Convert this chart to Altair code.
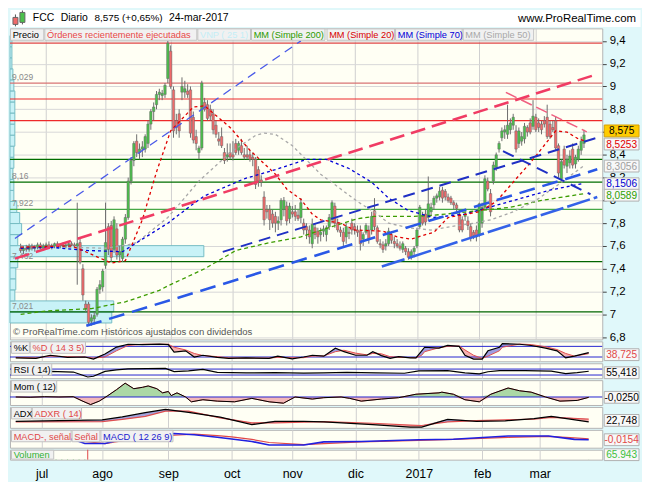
import altair as alt
import pandas as pd

# ---------------------------------------------------------------- data
# FCC daily candles, one per business day (index 0 = 20-jun-2016 ... 199 = 24-mar-2017)
opens = [
    7.58, 7.56, 7.58, 7.57, 7.60, 7.58, 7.59, 7.61, 7.58, 7.60,
    7.61, 7.59, 7.60, 7.62, 7.60, 7.61, 7.60, 7.61, 7.62, 7.61,
    7.60, 7.63, 7.40, 7.09, 7.09, 6.94, 6.96, 7.00, 7.22, 7.24,
    7.43, 7.77, 7.78, 7.57, 7.75, 7.52, 7.49, 7.66, 7.85, 8.17,
    8.35, 8.52, 8.42, 8.45, 8.45, 8.50, 8.67, 8.78, 8.84, 8.93,
    8.92, 8.93, 9.07, 9.31, 8.97, 8.70, 8.76, 8.95, 8.95, 8.96,
    8.97, 8.73, 8.56, 8.42, 8.46, 8.86, 8.84, 8.80, 8.76, 8.66,
    8.54, 8.56, 8.42, 8.38, 8.42, 8.40, 8.50, 8.44, 8.48, 8.40,
    8.40, 8.40, 8.38, 8.36, 8.27, 8.18, 8.03, 7.92, 7.92, 7.88,
    7.86, 7.80, 7.83, 7.92, 7.95, 7.84, 7.90, 7.90, 7.87, 7.85,
    7.80, 7.77, 7.74, 7.62, 7.76, 7.73, 7.70, 7.73, 7.70, 7.77,
    7.83, 7.95, 7.80, 7.74, 7.72, 7.68, 7.72, 7.80, 7.77, 7.74,
    7.73, 7.66, 7.72, 7.74, 7.74, 7.91, 7.76, 7.62, 7.61, 7.60,
    7.62, 7.70, 7.64, 7.62, 7.60, 7.57, 7.58, 7.55, 7.51, 7.55,
    7.60, 7.77, 7.86, 7.88, 7.85, 7.90, 7.96, 8.02, 8.03, 8.09,
    8.08, 8.03, 8.02, 7.98, 7.96, 7.88, 7.83, 7.86, 7.82, 7.77,
    7.72, 7.74, 7.70, 7.80, 7.94, 8.17, 8.06, 8.17, 8.29, 8.45,
    8.55, 8.60, 8.58, 8.62, 8.66, 8.61, 8.50, 8.52, 8.54, 8.64,
    8.68, 8.65, 8.73, 8.68, 8.67, 8.70, 8.73, 8.67, 8.64, 8.70,
    8.48, 8.19, 8.45, 8.30, 8.33, 8.45, 8.32, 8.36, 8.44, 8.50,
]
highs = [
    7.62, 7.60, 7.61, 7.62, 7.62, 7.61, 7.63, 7.63, 7.62, 7.63,
    7.64, 7.62, 7.63, 7.64, 7.62, 7.63, 7.62, 7.63, 7.64, 7.63,
    7.98, 7.66, 7.44, 7.12, 7.11, 7.00, 7.02, 7.24, 7.30, 7.40,
    7.98, 7.80, 7.82, 7.86, 7.80, 7.60, 7.68, 7.88, 8.20, 8.38,
    8.52, 8.58, 8.50, 8.52, 8.58, 8.70, 8.80, 8.86, 8.96, 8.98,
    8.97, 9.03, 9.40, 9.36, 9.00, 8.76, 8.80, 9.08, 9.05, 9.02,
    9.00, 8.78, 8.62, 8.48, 9.05, 8.90, 8.88, 8.84, 8.80, 8.70,
    8.60, 8.64, 8.46, 8.50, 8.50, 8.52, 8.54, 8.52, 8.54, 8.46,
    8.48, 8.44, 8.42, 8.38, 8.30, 8.22, 8.08, 7.96, 7.96, 7.92,
    7.90, 7.86, 8.02, 8.03, 7.99, 7.98, 7.95, 7.96, 7.92, 8.02,
    7.84, 7.80, 7.78, 7.84, 7.80, 7.76, 7.76, 7.78, 7.78, 7.88,
    8.00, 7.98, 7.84, 7.77, 7.76, 7.80, 7.76, 7.84, 7.80, 7.78,
    7.78, 7.72, 7.80, 7.78, 7.90, 8.02, 7.78, 7.66, 7.64, 7.66,
    7.76, 7.73, 7.68, 7.66, 7.64, 7.64, 7.60, 7.58, 7.57, 7.60,
    7.76, 7.96, 7.90, 7.92, 8.21, 7.98, 8.04, 8.06, 8.12, 8.12,
    8.10, 8.06, 8.04, 8.00, 7.98, 7.92, 7.86, 7.90, 7.86, 7.80,
    7.74, 7.78, 7.98, 7.98, 8.22, 8.20, 8.10, 8.34, 8.42, 8.52,
    8.64, 8.66, 8.84, 8.72, 8.76, 8.66, 8.64, 8.60, 8.68, 8.66,
    8.72, 8.88, 8.76, 8.72, 8.70, 8.74, 8.84, 8.70, 8.70, 8.74,
    8.50, 8.36, 8.48, 8.40, 8.44, 8.50, 8.40, 8.48, 8.56, 8.62,
]
lows = [
    7.54, 7.53, 7.55, 7.55, 7.56, 7.55, 7.57, 7.57, 7.56, 7.58,
    7.58, 7.57, 7.58, 7.59, 7.58, 7.59, 7.58, 7.59, 7.60, 7.58,
    7.26, 7.44, 7.12, 7.02, 6.90, 6.90, 6.91, 6.98, 7.18, 7.20,
    7.40, 7.52, 7.46, 7.54, 7.48, 7.46, 7.46, 7.62, 7.83, 8.14,
    8.30, 8.38, 8.36, 8.38, 8.42, 8.46, 8.62, 8.70, 8.80, 8.88,
    8.88, 8.90, 9.03, 8.98, 8.55, 8.58, 8.55, 8.88, 8.90, 8.90,
    8.55, 8.50, 8.44, 8.36, 8.44, 8.78, 8.70, 8.70, 8.58, 8.55,
    8.48, 8.46, 8.32, 8.34, 8.36, 8.35, 8.40, 8.40, 8.40, 8.36,
    8.36, 8.34, 8.30, 8.10, 8.12, 8.12, 7.78, 7.84, 7.74, 7.76,
    7.72, 7.74, 7.78, 7.86, 7.78, 7.80, 7.85, 7.82, 7.82, 7.80,
    7.70, 7.66, 7.62, 7.58, 7.66, 7.62, 7.64, 7.68, 7.64, 7.74,
    7.80, 7.76, 7.72, 7.68, 7.60, 7.62, 7.66, 7.70, 7.70, 7.68,
    7.56, 7.60, 7.70, 7.62, 7.70, 7.74, 7.62, 7.58, 7.54, 7.56,
    7.60, 7.62, 7.58, 7.58, 7.56, 7.54, 7.52, 7.48, 7.48, 7.50,
    7.58, 7.75, 7.78, 7.78, 7.82, 7.86, 7.92, 7.98, 8.00, 7.98,
    8.00, 7.98, 7.96, 7.92, 7.90, 7.72, 7.72, 7.82, 7.74, 7.64,
    7.66, 7.64, 7.68, 7.76, 7.92, 8.08, 7.86, 8.14, 8.26, 8.42,
    8.52, 8.54, 8.54, 8.58, 8.62, 8.42, 8.46, 8.48, 8.50, 8.56,
    8.58, 8.62, 8.60, 8.60, 8.58, 8.64, 8.54, 8.54, 8.60, 8.44,
    8.20, 8.16, 8.28, 8.24, 8.28, 8.28, 8.28, 8.34, 8.40, 8.46,
]
closes = [
    7.56, 7.58, 7.57, 7.60, 7.58, 7.59, 7.61, 7.58, 7.60, 7.61,
    7.59, 7.60, 7.62, 7.60, 7.61, 7.60, 7.61, 7.62, 7.61, 7.60,
    7.62, 7.46, 7.17, 7.05, 6.93, 6.97, 6.99, 7.22, 7.26, 7.38,
    7.63, 7.57, 7.50, 7.83, 7.52, 7.55, 7.66, 7.85, 8.17, 8.35,
    8.50, 8.42, 8.45, 8.47, 8.56, 8.67, 8.78, 8.82, 8.93, 8.95,
    8.94, 9.01, 9.38, 9.00, 8.61, 8.64, 8.61, 9.00, 8.98, 8.93,
    8.59, 8.53, 8.50, 8.46, 9.03, 8.80, 8.72, 8.74, 8.62, 8.58,
    8.52, 8.48, 8.35, 8.40, 8.38, 8.38, 8.42, 8.50, 8.42, 8.38,
    8.38, 8.36, 8.36, 8.14, 8.17, 8.16, 7.83, 7.90, 7.83, 7.80,
    7.80, 7.82, 8.00, 8.00, 7.82, 7.95, 7.88, 7.86, 7.84, 7.98,
    7.74, 7.74, 7.68, 7.79, 7.70, 7.68, 7.72, 7.75, 7.76, 7.85,
    7.98, 7.80, 7.74, 7.72, 7.64, 7.77, 7.71, 7.74, 7.74, 7.72,
    7.62, 7.70, 7.78, 7.66, 7.86, 7.77, 7.64, 7.61, 7.57, 7.62,
    7.73, 7.65, 7.62, 7.60, 7.58, 7.62, 7.55, 7.50, 7.55, 7.58,
    7.74, 7.94, 7.80, 7.81, 7.97, 7.94, 8.02, 8.04, 8.08, 8.02,
    8.03, 8.00, 7.98, 7.96, 7.93, 7.74, 7.74, 7.88, 7.78, 7.67,
    7.69, 7.68, 7.97, 7.94, 8.19, 8.10, 7.90, 8.31, 8.40, 8.50,
    8.61, 8.62, 8.66, 8.68, 8.73, 8.45, 8.61, 8.56, 8.65, 8.60,
    8.60, 8.74, 8.62, 8.64, 8.62, 8.67, 8.56, 8.56, 8.62, 8.46,
    8.24, 8.34, 8.31, 8.36, 8.39, 8.31, 8.38, 8.45, 8.52, 8.575,
]

month_idx = [9, 30, 53, 75, 96, 118, 140, 162, 182]
month_lbl = ["jul", "ago", "sep", "oct", "nov", "dic", "2017", "feb", "mar"]
y_ticks = [6.8, 7.0, 7.2, 7.4, 7.6, 7.8, 8.0, 8.2, 8.4, 8.6, 8.8, 9.0, 9.2, 9.4]

# moving averages (bar index, value)
ma20_idx = [0, 18, 22, 32, 37, 43, 48, 53, 61, 65, 74, 81, 90, 94, 99, 103, 106,
            113, 118, 128, 133, 138, 143, 146, 151, 162, 168, 180, 182, 189, 193, 197, 199]
ma20_val = [7.59, 7.60, 7.56, 7.45, 7.47, 7.83, 8.25, 8.61, 8.82, 8.83, 8.64, 8.44, 8.23, 8.10, 8.01, 7.88, 7.83,
            7.80, 7.74, 7.73, 7.68, 7.66, 7.70, 7.72, 7.85, 7.90, 7.99, 8.33, 8.39, 8.61, 8.60, 8.54, 8.5253]
ma50_idx = [0, 30, 38, 41, 52, 63, 74, 83, 86, 90, 96, 106, 112, 119, 126, 130, 137,
            145, 152, 160, 166, 174, 182, 190, 199]
ma50_val = [7.60, 7.58, 7.61, 7.63, 7.85, 8.17, 8.42, 8.57, 8.59, 8.58, 8.48, 8.23, 8.12, 7.99, 7.88, 7.80, 7.76,
            7.74, 7.77, 7.80, 7.83, 7.90, 8.00, 8.14, 8.3056]
ma70_idx = [0, 10, 24, 36, 43, 52, 61, 65, 79, 90, 101, 108, 116, 124, 130, 137, 146, 157, 167, 177, 187, 199]
ma70_val = [7.58, 7.59, 7.56, 7.55, 7.66, 7.80, 7.97, 8.04, 8.19, 8.27, 8.36, 8.36, 8.28, 8.16, 8.02, 7.91,
            7.85, 7.88, 7.95, 8.02, 8.09, 8.1506]
ma200_idx = [0, 9, 25, 37, 49, 52, 65, 76, 88, 99, 110, 119, 125, 139, 146, 162, 173, 184, 199]
ma200_val = [7.00, 7.03, 7.05, 7.11, 7.21, 7.25, 7.40, 7.56, 7.63, 7.68, 7.77, 7.84, 7.86, 7.86, 7.87,
             7.91, 7.94, 8.00, 8.0589]

# horizontal support / resistance levels
level_price = [9.38, 9.029, 8.89, 8.70, 8.36, 8.16, 7.922, 7.462, 7.021]
level_label = ["", "9,029", "", "", "", "8,16", "7,922", "7,462", "7,021"]

# drawn trend lines (start bar, start price, end bar, end price)
trend_name = ["up_thin", "up_red", "chan_a", "chan_c", "chan_d", "down_blue", "down_pink"]
trend_i0 = [-2.0, -2.0, 71.4, 23.2, 127.6, 170.4, 171.4]
trend_p0 = [7.666, 7.489, 7.548, 6.899, 7.420, 8.433, 8.948]
trend_i1 = [99.0, 203.7, 203.7, 203.7, 203.7, 201.3, 200.0]
trend_p1 = [9.400, 9.108, 8.551, 8.273, 8.030, 8.054, 8.602]

# volume-by-price boxes (bin low, relative volume)
vp_low = [6.924, 7.021, 7.118, 7.215, 7.312, 7.409, 7.506, 7.603, 7.700, 7.797, 7.894, 7.991, 8.088,
          8.185, 8.282, 8.379, 8.476, 8.573, 8.670, 8.767, 8.864, 8.961, 9.058, 9.155, 9.252, 9.349]
vp_vol = [105, 107, 5, 6, 6, 8, 200, 8, 12, 10, 7, 4, 4, 3, 4, 4, 5, 5, 5, 5, 5, 4, 3, 2, 2, 2]
vp_bin = 0.097

# indicators
stoch_idx = [0, 7, 12, 18, 24, 27, 31, 35, 39, 44, 50, 53, 55, 59, 62, 65, 70, 74, 80, 88,
             91, 96, 100, 103, 107, 111, 114, 118, 122, 124, 127, 130, 133, 137, 139, 141, 142, 147, 150, 154,
             156, 159, 162, 164, 168, 169, 175, 179, 184, 188, 191, 194, 199]
stoch_k = [15, 12, 30, 18, 20, 8, 37, 76, 92, 90, 93, 90, 48, 55, 20, 30, 18, 12, 15, 12,
           25, 10, 20, 30, 25, 70, 50, 30, 30, 50, 28, 12, 22, 15, 15, 55, 75, 70, 85, 80,
           30, 8, 8, 55, 75, 95, 92, 85, 70, 55, 15, 25, 45]
stoch_d = [18, 15, 25, 22, 20, 14, 20, 55, 85, 92, 92, 92, 75, 60, 40, 28, 22, 15, 14, 14,
           18, 16, 16, 25, 26, 50, 58, 42, 32, 40, 38, 22, 18, 17, 15, 30, 50, 72, 80, 82,
           60, 30, 12, 25, 55, 75, 93, 90, 78, 62, 40, 25, 38.725]
stoch_levels = [80, 20]

rsi_idx = [0, 12, 20, 23, 25, 27, 31, 35, 39, 52, 55, 60, 65, 70, 80, 90, 100, 107, 115, 125,
           135, 140, 150, 156, 161, 164, 168, 177, 186, 191, 195, 199]
rsi_val = [52, 54, 50, 30, 17, 22, 54, 65, 71, 74, 53, 58, 68, 48, 44, 46, 43, 45, 48, 44,
           42, 58, 60, 44, 38, 52, 60, 60, 56, 40, 46, 55.418]
rsi_levels = [70, 30]

mom_idx = [0, 5, 10, 15, 20, 23, 26, 29, 32, 35, 38, 41, 44, 46, 49, 51, 53, 54, 56, 59,
           61, 65, 70, 76, 82, 88, 93, 97, 103, 107, 113, 116, 120, 127, 133, 139, 147, 148, 152, 156,
           161, 165, 169, 171, 175, 179, 184, 189, 195, 199]
mom_val = [0.0, -0.02, 0.02, 0.0, 0.02, -0.28, -0.55, -0.30, 0.10, 0.53, 1.00, 0.60, 0.70, 0.80, 0.60, 0.30,
           0.40, 0.10, 0.30, 0.0, -0.35, -0.20, -0.30, -0.35, -0.10, -0.35, -0.45, 0.0, -0.15, -0.05,
           0.0, -0.10, -0.30, -0.15, -0.05, 0.20, 0.30, 0.35, 0.20, -0.20, -0.35, 0.20, 0.50, 0.65, 0.45,
           0.35, 0.0, -0.30, -0.25, -0.025]

adx_idx = [0, 30, 37, 45, 52, 60, 71, 82, 90, 100, 107, 124, 137, 141, 150, 160, 170, 180, 186, 199]
adx_val = [23.5, 25.4, 29.3, 35.0, 39.4, 35.5, 29.0, 19.2, 23.5, 23.5, 22.7, 19.2, 15.8, 15.8, 26.2,
           23.5, 24.2, 27.0, 30.1, 22.748]
adxr_val = [22.7, 23.1, 26.0, 30.0, 37.0, 37.0, 28.0, 21.5, 21.4, 22.5, 23.1, 21.0, 18.5, 18.0, 22.7,
            24.5, 25.5, 26.5, 28.7, 26.4]

macd_idx = [0, 20, 24, 31, 40, 55, 62, 70, 75, 82, 88, 100, 107, 120, 140, 152, 171, 185, 194, 199]
macd_val = [0.0, 0.0, -0.20, -0.20, 0.10, 0.28, 0.22, 0.10, 0.02, -0.10, -0.27, -0.27, -0.12, -0.10,
            -0.02, 0.01, 0.16, 0.16, 0.0, -0.0154]
signal_val = [0.0, 0.0, -0.10, -0.20, 0.0, 0.20, 0.25, 0.18, 0.12, 0.0, -0.15, -0.25, -0.20, -0.12,
              -0.05, 0.0, 0.10, 0.15, 0.07, 0.03]

vol_idx = [14, 16, 18, 20, 22, 24, 25, 199]
vol_val = [250000, 250000, 250000, 250000, 250000, 250000, 9000000, 65943]

for a, b in [(opens, closes), (highs, closes), (lows, closes), (ma20_idx, ma20_val), (ma50_idx, ma50_val),
             (ma70_idx, ma70_val), (ma200_idx, ma200_val), (stoch_idx, stoch_k), (stoch_idx, stoch_d),
             (rsi_idx, rsi_val), (mom_idx, mom_val), (adx_idx, adx_val), (adx_idx, adxr_val),
             (macd_idx, macd_val), (macd_idx, signal_val), (vp_low, vp_vol), (vol_idx, vol_val)]:
    assert len(a) == len(b), (len(a), len(b))

# ---------------------------------------------------------------- layout / style
W, H = 596, 313
XDOM = [-2.0, 203.7]
FONT = "Liberation Sans"
TAG = 9.3      # font size of the boxed series tags
LEXPR = " : ".join(f"datum.value == {i} ? '{l}'" for i, l in zip(month_idx, month_lbl)) + " : ''"
dummy = pd.DataFrame({"a": [0]})


def X(field, labels=False):
    kw = dict(values=month_idx, grid=True, gridColor="#d0d0d0", gridWidth=1, ticks=False,
              domain=False, title=None)
    if labels:
        kw.update(labels=True, labelExpr=LEXPR, labelFontSize=12.5, labelColor="#000000",
                  labelPadding=8, labelFont=FONT, labelFlush=False, labelOverlap=False)
    else:
        kw.update(labels=False)
    return alt.X(f"{field}:Q", scale=alt.Scale(domain=XDOM, nice=False, zero=False), axis=alt.Axis(**kw))


YAX = alt.Axis(orient="right", values=y_ticks,
               labelExpr="datum.value == 8.6 ? '' : replace(format(datum.value, '.1~f'), '.', ',')",
               grid=True, gridColor="#d8d8d8", ticks=True, tickSize=4, tickColor="#444444", domain=False,
               labelFont=FONT, labelFontSize=11.5, labelColor="#000000", labelPadding=3,
               labelFlush=False, labelOverlap=False, title=None)


def YM(field):
    return alt.Y(f"{field}:Q", scale=alt.Scale(domain=[6.78, 9.51], nice=False, zero=False), axis=YAX)


def YI(field, dom):
    return alt.Y(f"{field}:Q", scale=alt.Scale(domain=dom, nice=False, zero=False), axis=None)


def box(x0, x1, y0, y1, fill, stroke="#c2c2c2"):
    return alt.Chart(dummy).mark_rect(fill=fill, stroke=stroke, strokeWidth=1).encode(
        x=alt.value(x0), x2=alt.value(x1), y=alt.value(y0), y2=alt.value(y1))


def label(x, y, txt, color, size=TAG, align="left"):
    return alt.Chart(dummy).mark_text(text=txt, align=align, baseline="middle", fontSize=size,
                                      color=color, font=FONT).encode(x=alt.value(x), y=alt.value(y))


def tagrow(items, y1=12.0):
    out = []
    for x0, x1, txt, col in items:
        out.append(box(x0, x1, 0.5, y1, "#f1f1f1"))
        out.append(label(x0 + 2.2, (0.5 + y1) / 2 + 0.5, txt, col))
    return out


RECT = "M-1,-0.34L1,-0.34L1,0.34L-1,0.34Z"
BADGE_FS = 10.2


def badge(value, txt, ychan, fill, stroke, color, off=0.0):
    base = alt.Chart(pd.DataFrame({"v": [value], "t": [txt]}))
    p = base.mark_point(shape=RECT, size=35 * 35, filled=True, fill=fill, stroke=stroke, strokeWidth=1,
                        opacity=1, fillOpacity=1, yOffset=off).encode(x=alt.value(W + 19.5), y=ychan)
    t = base.mark_text(align="center", baseline="middle", fontSize=BADGE_FS, color=color, font=FONT,
                       yOffset=off + 0.5).encode(x=alt.value(W + 19.5), y=ychan, text="t:N")
    return [p, t]


def comma(v):
    return f"{v}".replace(".", ",")


# ---------------------------------------------------------------- header
last, prev = closes[-1], closes[-2]
pct = (last / prev - 1) * 100
hdr_txt = f"{comma(last)} (+{pct:.2f}%)".replace(".", ",")
header = alt.layer(
    alt.Chart(dummy).mark_rule(color="#555555").encode(x=alt.value(5.5), y=alt.value(5), y2=alt.value(17)),
    box(3, 8, 8, 15, "#f06a6a", "#666666"),
    alt.Chart(dummy).mark_rule(color="#555555").encode(x=alt.value(12.5), y=alt.value(1), y2=alt.value(15)),
    box(10, 15, 3, 13, "#4cc04c", "#666666"),
    label(23, 9, "FCC", "#000000", 10.5),
    label(51, 9, "Diario", "#000000", 10.5),
    label(85, 9, hdr_txt, "#000000", 10.0),
    label(160, 9, "24-mar-2017", "#000000", 10.5),
    label(630, 9.5, "www.ProRealTime.com", "#000000", 11.5, align="right"),
).properties(width=634, height=17, view=alt.ViewBackground(fill="#ffffff", strokeOpacity=0))

# ---------------------------------------------------------------- main price panel
cdf = pd.DataFrame({"idx": list(range(len(closes))), "open": opens, "high": highs, "low": lows, "close": closes})
up = alt.datum.close >= alt.datum.open

level_color = ["#e04848", "#d87474", "#ee2a2a", "#ee2a2a", "#006e00", "#006e00", "#46a846", "#006400", "#006400"]
ldf = pd.DataFrame({"p": level_price, "lbl": level_label, "col": level_color})

vdf = pd.DataFrame({"lo": vp_low, "hi": [v + vp_bin for v in vp_low], "vol": vp_vol})
vp_layer = alt.Chart(vdf).transform_calculate(zero="0").mark_rect(
    fill="#c8f2f7", stroke="#76bcc4", strokeWidth=1).encode(
    x=alt.X("zero:Q", scale=alt.Scale(domain=[0, 611], nice=False, zero=False), axis=None),
    x2="vol:Q", y=YM("lo"), y2="hi")

layers = []
layers.append(alt.Chart(ldf).mark_rule(strokeWidth=1.2).encode(
    y=YM("p"), color=alt.Color("col:N", scale=None)))
layers.append(alt.Chart(ldf).transform_filter("datum.lbl != ''").mark_text(
    align="left", baseline="bottom", dy=-1, fontSize=8.5, color="#8a8a8a", font=FONT).encode(
    x=alt.value(2), y=YM("p"), text="lbl:N"))
layers.append(alt.Chart(cdf).mark_rule(color="#6e6e6e", strokeWidth=1).encode(
    x=X("idx"), y=YM("low"), y2="high"))
layers.append(alt.Chart(cdf).mark_bar(size=2.4, stroke="#666666", strokeWidth=0.5).encode(
    x=X("idx"), y=YM("open"), y2="close",
    color=alt.when(up).then(alt.value("#4cc04c")).otherwise(alt.value("#f06a6a"))))


def ma_layer(idx, val, color, dash, width=1.3):
    df = pd.DataFrame({"idx": idx, "v": val})
    return alt.Chart(df).mark_line(color=color, strokeDash=dash, strokeWidth=width).encode(
        x=X("idx"), y=YM("v"))


layers.append(ma_layer(ma200_idx, ma200_val, "#3c9c00", [4, 3]))
layers.append(ma_layer(ma50_idx, ma50_val, "#a8a8a8", [3, 3]))
layers.append(ma_layer(ma70_idx, ma70_val, "#0000d8", [3, 3]))
layers.append(ma_layer(ma20_idx, ma20_val, "#e00000", [3, 3]))

tdf = pd.DataFrame({"name": trend_name, "i0": trend_i0, "p0": trend_p0, "i1": trend_i1, "p1": trend_p1})
trend_style = {
    "up_thin": ("#4a5ae8", 1.3, [9, 6]),
    "up_red": ("#f03c64", 2.6, [15, 7]),
    "chan_a": ("#2030c4", 2.0, [12, 7]),
    "chan_c": ("#2a58e6", 2.6, [16, 8]),
    "chan_d": ("#3462e8", 2.6, [24, 4]),
    "down_blue": ("#2030c4", 2.0, [12, 7]),
    "down_pink": ("#f06080", 1.5, [12, 5]),
}
for nm, (col, wd, ds) in trend_style.items():
    layers.append(alt.Chart(tdf).transform_filter(alt.datum.name == nm).mark_rule(
        color=col, strokeWidth=wd, strokeDash=ds).encode(x=X("i0"), x2="i1", y=YM("p0"), y2="p1"))

layers.append(label(3, 305.5, "© ProRealTime.com   Históricos ajustados con dividendos", "#555555", 9.6))

legend_items = [
    (0.5, 34, "Precio", "#000000"),
    (35, 188, "Órdenes recientemente ejecutadas", "#e84848"),
    (189, 242, "VNP ( 25 1)", "#c4eef6"),
    (243, 317, "MM (Simple 200)", "#2a9a00"),
    (319, 387, "MM (Simple 20)", "#d80000"),
    (388, 455, "MM (Simple 70)", "#0000d8"),
    (456, 527, "MM (Simple 50)", "#a8a8a8"),
]
layers += tagrow(legend_items)

main_badges = [
    (ma20_val[-1], "#f8f8f8", "#b0b0b0", "#e00000", 3.5),
    (closes[-1], "#ffcc00", "#d8a000", "#000000", -4.0),
    (ma50_val[-1], "#f8f8f8", "#b0b0b0", "#a0a0a0", 0.5),
    (ma70_val[-1], "#f8f8f8", "#b0b0b0", "#0000d0", 0.5),
    (ma200_val[-1], "#f8f8f8", "#b0b0b0", "#30a000", 1.5),
]
for v, fl, st, tc, off in main_badges:
    layers += badge(v, comma(v), YM("v"), fl, st, tc, off)

main = alt.layer(vp_layer, alt.layer(*layers)).resolve_scale(x="independent").properties(
    width=W, height=H, view=alt.ViewBackground(fill="#fffff4", stroke="#b4b4b4"))

# ---------------------------------------------------------------- indicator panels
IND_BADGE = ("#f8f8f8", "#b0b0b0")


def levels(vals, dom):
    return alt.Chart(pd.DataFrame({"lvl": vals})).mark_rule(color="#2424d0", strokeWidth=1).encode(
        y=YI("lvl", dom))


# stochastic
SD = [-4, 108]
sb = alt.Chart(pd.DataFrame({"idx": stoch_idx, "k": stoch_k, "d": stoch_d})).transform_calculate(
    hi="max(datum.k, datum.d)")
stoch = alt.layer(
    sb.mark_area(color="#8c8cdc", opacity=0.85).encode(x=X("idx"), y=YI("hi", SD), y2="d"),
    sb.mark_area(color="#f4a4a4", opacity=0.85).encode(x=X("idx"), y=YI("hi", SD), y2="k"),
    levels(stoch_levels, SD),
    sb.mark_line(color="#e05050", strokeWidth=1).encode(x=X("idx"), y=YI("d", SD)),
    sb.mark_line(color="#000000", strokeWidth=1.2).encode(x=X("idx"), y=YI("k", SD)),
    *tagrow([(1.5, 19.5, "%K", "#000000"), (20.5, 76, "%D ( 14 3 5)", "#e04848")]),
    *badge(stoch_d[-1], comma(stoch_d[-1]), YI("v", SD), *IND_BADGE, "#e04848", 1.0),
).properties(width=W, height=20)

# RSI
RD = [9, 109]
rb = alt.Chart(pd.DataFrame({"idx": rsi_idx, "r": rsi_val}))
rsi = alt.layer(
    levels(rsi_levels, RD),
    rb.mark_line(color="#000000", strokeWidth=1.2).encode(x=X("idx"), y=YI("r", RD)),
    *tagrow([(1.5, 42, "RSI ( 14)", "#000000")]),
    *badge(rsi_val[-1], comma(rsi_val[-1]), YI("v", RD), *IND_BADGE, "#000000", 1.5),
).properties(width=W, height=15)

# momentum
MD = [-0.58, 1.22]
mb = alt.Chart(pd.DataFrame({"idx": mom_idx, "m": mom_val})).transform_calculate(
    pos="max(datum.m, 0)", neg="min(datum.m, 0)", z="0")
mom = alt.layer(
    mb.mark_area(color="#a6d6a0", opacity=0.95).encode(x=X("idx"), y=YI("pos", MD), y2="z"),
    mb.mark_area(color="#f2b4b4", opacity=0.95).encode(x=X("idx"), y=YI("neg", MD), y2="z"),
    levels([0], MD),
    mb.mark_line(color="#e06060", strokeWidth=1).encode(x=X("idx"), y=YI("m", MD)),
    mb.mark_line(color="#000000", strokeWidth=1).encode(x=X("idx"), y=YI("m", MD)),
    *tagrow([(1.5, 47, "Mom ( 12)", "#000000")]),
    *badge(mom_val[-1], f"{mom_val[-1]:.4f}".replace(".", ","), YI("v", MD), *IND_BADGE, "#000000", 0.0),
).properties(width=W, height=25)

# ADX
AD = [14.9, 42.5]
ab = alt.Chart(pd.DataFrame({"idx": adx_idx, "a": adx_val, "r": adxr_val})).transform_calculate(
    hi="max(datum.a, datum.r)")
adx = alt.layer(
    ab.mark_area(color="#9a9ad8", opacity=0.9).encode(x=X("idx"), y=YI("hi", AD), y2="r"),
    ab.mark_area(color="#f4aaaa", opacity=0.9).encode(x=X("idx"), y=YI("hi", AD), y2="a"),
    ab.mark_line(color="#e05050", strokeWidth=1.2).encode(x=X("idx"), y=YI("r", AD)),
    ab.mark_line(color="#000000", strokeWidth=1.3).encode(x=X("idx"), y=YI("a", AD)),
    *tagrow([(1.5, 21.5, "ADX", "#000000"), (22.5, 72, "ADXR ( 14)", "#e04848")]),
    *badge(adx_val[-1], comma(adx_val[-1]), YI("v", AD), *IND_BADGE, "#000000", -1.5),
).properties(width=W, height=21)

# MACD
CD = [-0.40, 0.46]
cb = alt.Chart(pd.DataFrame({"idx": macd_idx, "m": macd_val, "s": signal_val}))
macd = alt.layer(
    cb.mark_line(color="#e04848", strokeWidth=1.2).encode(x=X("idx"), y=YI("s", CD)),
    cb.mark_line(color="#2020e0", strokeWidth=1.6).encode(x=X("idx"), y=YI("m", CD)),
    *tagrow([(1.5, 61.5, "MACD-, señal", "#e04848"), (62.5, 90.5, "Señal", "#e04848"),
             (91.5, 164, "MACD ( 12 26 9)", "#2020d0")]),
    *badge(macd_val[-1], comma(macd_val[-1]), YI("v", CD), *IND_BADGE, "#e04848", 0.0),
).properties(width=W, height=18)

# volume
VD = [0, max(vol_val)]
vb = alt.Chart(pd.DataFrame({"idx": vol_idx, "v": vol_val})).transform_calculate(z="0")
vol_txt = f"{vol_val[-1]:,}".replace(",", ".")
volume = alt.layer(
    vb.mark_rule(strokeWidth=1).encode(
        x=X("idx", labels=True), y=YI("v", VD), y2="z",
        color=alt.when(alt.datum.v > 1000000).then(alt.value("#e04848")).otherwise(alt.value("#40b040"))),
    *tagrow([(1.5, 44, "Volumen", "#30b030")], y1=9.5),
    alt.Chart(dummy).mark_point(shape=RECT, size=35 * 35, filled=True, fill="#f8f8f8", stroke="#b0b0b0",
                                strokeWidth=1, opacity=1).encode(x=alt.value(W + 19.5), y=alt.value(5)),
    alt.Chart(dummy).mark_text(text=vol_txt, align="center", baseline="middle", fontSize=BADGE_FS,
                               color="#40c040", font=FONT).encode(x=alt.value(W + 19.5), y=alt.value(5.5)),
).properties(width=W, height=10)

chart = alt.vconcat(header, main, stoch, rsi, mom, adx, macd, volume, spacing=2, bounds="flush").properties(
    padding={"left": 0, "top": 0, "right": 0, "bottom": 0}
).configure(
    background="#e0f8fa", font=FONT
).configure_view(
    fill="#fffff4", stroke="#b4b4b4", strokeWidth=1
)

chart.save("out.html", embed_options={"renderer": "svg", "actions": False})
